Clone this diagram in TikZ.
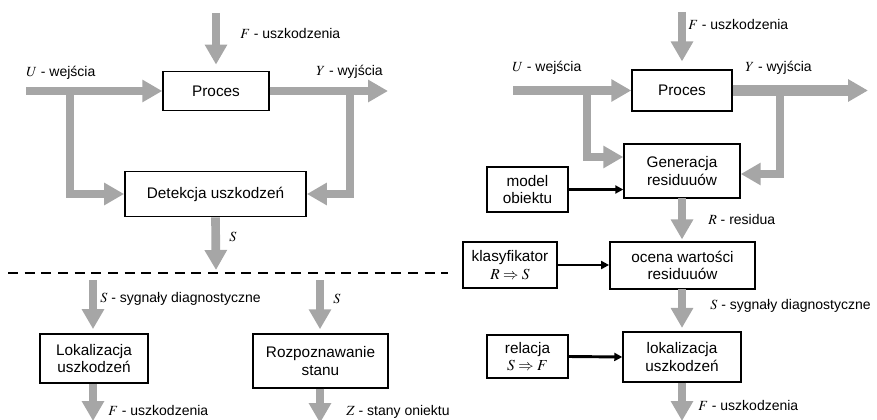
\documentclass[tikz,border=0pt]{standalone}
\usepackage{mathptmx}
\usepackage[no-math]{fontspec}
\setmainfont{Liberation Sans}
\usetikzlibrary{arrows.meta}
\definecolor{arrowgray}{HTML}{A6A6A6}
\tikzset{
  block/.style={draw=black, line width=1.1pt, fill=white, align=center,
    font=\fontsize{11.5}{13}\selectfont, inner sep=0pt},
  signal/.style={anchor=west, inner sep=0pt, font=\fontsize{10.5}{12}\selectfont},
  garrow/.style={draw=arrowgray, line width=6.5pt,
    -{Triangle[length=15pt, width=16pt]}},
  karrow/.style={draw=black, line width=2.2pt, -{Triangle[length=6pt, width=6pt]}},
}
\begin{document}
\begin{tikzpicture}[x=0.75pt, y=-0.75pt]
		\useasboundingbox (0,0) rectangle (877,420);
		% left: detection
		\node[block, minimum width=79.5pt, minimum height=29.5pt] (proc1) at (216,91) {Proces};
		\node[block, minimum width=136pt, minimum height=34pt] (det) at (215.5,194) {Detekcja uszkodzeń};
		\coordinate (f1) at (216,13); \draw[garrow, shorten >=4.5pt] (f1) -- (proc1.north);
		\node[signal] (lf1) at (240,33) {$F$ - uszkodzenia};
		\coordinate (u1) at (26,91); \draw[garrow] (u1) -- (proc1.west);
		\node[signal] (lu1) at (26,73) {$U$ - wejścia};
		\coordinate (y1) at (388,91); \draw[garrow] (proc1.east) -- (y1);
		\node[signal] (ly1) at (316,72) {$Y$ - wyjścia};
		\coordinate (ub1) at (70,91); \draw[garrow] (ub1) |- (det.west);
		\coordinate (yb1) at (350,91); \draw[garrow] (yb1) |- (det.east);
		\coordinate (s1) at (216,270); \draw[garrow] (det.south) -- (s1);
		\node[signal] (ls1) at (229,237) {$S$};
		
		\coordinate (dl) at (8,273); \coordinate (dr) at (448,273);
		\draw[line width=1.6pt, dash pattern=on 7.5pt off 5pt] (dl) -- (dr);
		
		% left: after the cut
		\node[block, minimum width=81pt, minimum height=37pt] (lok1) at (94,358.5) {Lokalizacja\\uszkodzeń};
		\node[block, minimum width=101.25pt, minimum height=40.5pt] (roz) at (320.5,361) {Rozpoznawanie\\stanu};
		\coordinate (s2) at (93,280); \draw[garrow, shorten >=3pt] (s2) -- (s2 |- lok1.north);
		\node[signal] (ls2) at (100,299) {$S$ - sygnały diagnostyczne};
		\coordinate (s3) at (320,280); \draw[garrow, shorten >=3pt] (s3) -- (s3 |- roz.north);
		\node[signal] (ls3) at (333,299) {$S$};
		\coordinate (f2) at (93,421); \draw[garrow] (f2 |- lok1.south) -- (f2);
		\node[signal] (lf2) at (108,410) {$F$ - uszkodzenia};
		\coordinate (z1) at (320,423); \draw[garrow] (z1 |- roz.south) -- (z1);
		\node[signal] (lz1) at (346,412) {$Z$ - stany oniektu};
		
		% right: residual generation
		\node[block, minimum width=75pt, minimum height=30.5pt] (proc2) at (682,90.5) {Proces};
		\node[block, minimum width=87pt, minimum height=40.5pt] (gen) at (682,171) {Generacja\\residuuów};
		\node[block, minimum width=61pt, minimum height=34pt] (model) at (527.5,189.5) {model\\obiektu};
		\node[block, minimum width=109pt, minimum height=35pt] (ocena) at (682.5,265.5) {ocena wartości\\residuuów};
		\node[block, minimum width=70.5pt, minimum height=34.5pt] (klas) at (510,265) {klasyfikator\\$R\Rightarrow S$};
		\node[block, minimum width=88.5pt, minimum height=37.5pt] (lok2) at (682,357) {lokalizacja\\uszkodzeń};
		\node[block, minimum width=61pt, minimum height=32pt] (rel) at (527.5,356.5) {relacja\\$S\Rightarrow F$};
		
		\coordinate (f3) at (682,12); \draw[garrow, shorten >=6pt] (f3) -- (f3 |- proc2.north);
		\node[signal] (lf3) at (688,24) {$F$ - uszkodzenia};
		\coordinate (u2) at (513,90.5); \draw[garrow] (u2) -- (proc2.west);
		\node[signal] (lu2) at (512,68) {$U$ - wejścia};
		\coordinate (y2) at (868,90.5); \draw[garrow, line width=8pt] (proc2.east) -- (y2);
		\node[signal] (ly2) at (745,68) {$Y$ - wyjścia};
		\coordinate (ub2) at (587,90.5); \draw[garrow] (ub2) |- ([yshift=10.5pt]gen.west);
		\coordinate (yb2) at (780,90.5); \draw[garrow] (yb2) |- ([yshift=-2.25pt]gen.east);
		\draw[karrow] (model.east) -- (model.east -| gen.west);
		
		\coordinate (r1) at (682,198); \draw[garrow, shorten >=1.5pt] (r1) -- (r1 |- ocena.north);
		\node[signal] (lr1) at (708,219) {$R$ - residua};
		\draw[karrow] (klas.east) -- (klas.east -| ocena.west);
		
		\coordinate (s4) at (682,289); \draw[garrow, shorten >=2.5pt] (s4) -- (lok2.north);
		\node[signal] (ls4) at (710,306) {$S$ - sygnały diagnostyczne};
		\draw[karrow] (rel.east) -- (lok2.west);
		\coordinate (f4) at (682,421); \draw[garrow] (lok2.south) -- (f4);
		\node[signal] (lf4) at (698,405) {$F$ - uszkodzenia};
		\end{tikzpicture}
\end{document}
